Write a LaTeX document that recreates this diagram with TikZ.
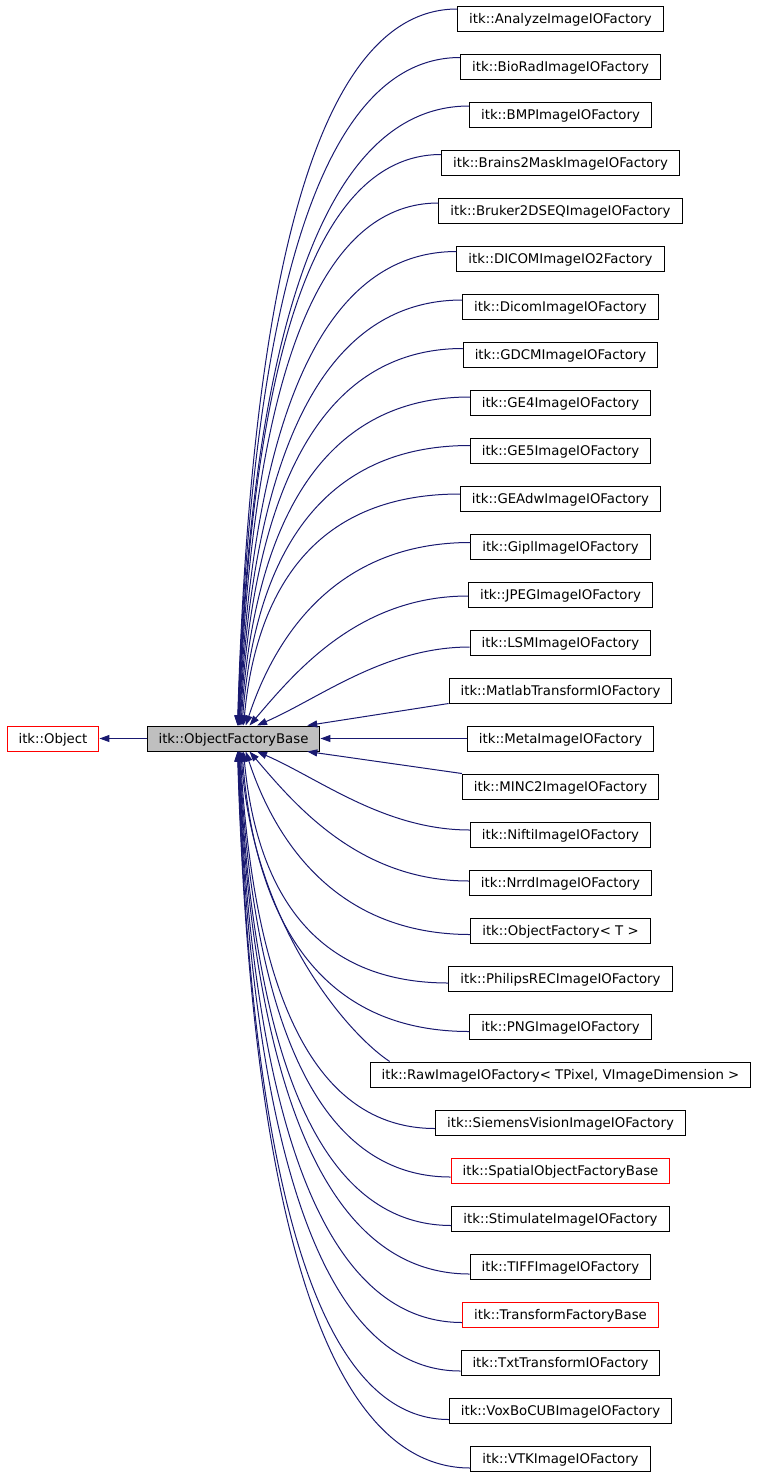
\documentclass[tikz,border=0pt]{standalone}
\usepackage{fontspec}
\setmainfont{DejaVu Sans}
\usetikzlibrary{arrows.meta,calc}
\definecolor{edgeblue}{RGB}{25,25,112}
\definecolor{basegray}{RGB}{191,191,191}

\begin{document}
\begin{tikzpicture}[x=1pt,y=-1pt,
    cls/.style={draw=black,fill=white,line width=1pt,minimum height=25pt,inner xsep=11.5pt,
      font=\fontsize{13.3}{16}\selectfont,text height=9.7pt,text depth=0pt},
    clsref/.style={cls,draw=red},
    edge/.style={draw=edgeblue,line width=1pt,-{Triangle[length=10pt,width=7pt]}}]
    % 画布
    \useasboundingbox (0,0) rectangle (757,1475);

    % 基类
    \node[clsref] (obj) at (53,738.5) {itk::Object};
    \node[cls,fill=basegray] (base) at (233.5,738.5) {itk::ObjectFactoryBase};

    % 派生类
    \foreach \lab/\sty [count=\j from 0] in {AnalyzeImageIOFactory/cls,
        BioRadImageIOFactory/cls, BMPImageIOFactory/cls,
        Brains2MaskImageIOFactory/cls, Bruker2DSEQImageIOFactory/cls,
        DICOMImageIO2Factory/cls, DicomImageIOFactory/cls,
        GDCMImageIOFactory/cls, GE4ImageIOFactory/cls, GE5ImageIOFactory/cls,
        GEAdwImageIOFactory/cls, GiplImageIOFactory/cls, JPEGImageIOFactory/cls,
        LSMImageIOFactory/cls, MatlabTransformIOFactory/cls,
        MetaImageIOFactory/cls, MINC2ImageIOFactory/cls, NiftiImageIOFactory/cls,
        NrrdImageIOFactory/cls, {ObjectFactory< T >}/cls,
        PhilipsRECImageIOFactory/cls, PNGImageIOFactory/cls,
        {RawImageIOFactory< TPixel, VImageDimension >}/cls,
        SiemensVisionImageIOFactory/cls, SpatialObjectFactoryBase/clsref,
        StimulateImageIOFactory/cls, TIFFImageIOFactory/cls,
        TransformFactoryBase/clsref, TxtTransformIOFactory/cls,
        VoxBoCUBImageIOFactory/cls, VTKImageIOFactory/cls}
        \node[\sty] (f\j) at (560.5,{18.5+48*\j}) {itk::\lab};

    % 继承箭头（弯曲）
    \foreach \j in {0,...,13,17,18,...,21,23,24,...,30}{
        \pgfmathtruncatemacro\dd{\j-15}
        \pgfmathsetmacro\sg{\dd<0 ? -1 : 1}
        \pgfmathsetmacro\ad{abs(\dd)}
        \pgfmathsetmacro\oo{(\ad<3.5) ? ((3-\ad)*3+1.5) : (-min(10,4+(\ad-4)*0.5))}
        \pgfmathsetmacro\off{-\sg*\oo}
        \pgfmathsetmacro\dx{1+45/\ad}
        \pgfmathsetmacro\fh{min(0.7,0.4+0.1*(\ad-2))}
        \pgfmathsetmacro\fv{0.35+0.2*min(1,(\ad-2)/3)}
        \pgfmathsetmacro\bb{12+51*max(0,(5-\ad)/3)}
        \ifnum\dd<0 \def\anc{north}\else\def\anc{south}\fi
        \coordinate (s\j) at ($(f\j.west)+(0,\off)$);
        \coordinate (t\j) at ($(base.\anc)+(\dx,0)$);
        \draw[edge] (s\j) .. controls ($(s\j)!\fh!(s\j -| t\j)$)
            and ($(t\j)!\fv!(t\j |- s\j)+(\bb,0)$) .. (t\j);
    }
    % 长框从上边进入
    \draw[edge] ($(f22.north west)+(20,0)$) .. controls +(-45,-30) and +(12,170)
        .. ($(base.south)+(7.4,0)$);

    % 继承箭头（直线）
    \draw[edge] (f14.south west) -- (base.10);
    \draw[edge] (f15) -- (base);
    \draw[edge] (f16.north west) -- (base.-10);
    \draw[edge] (base) -- (obj);
\end{tikzpicture}
\end{document}
